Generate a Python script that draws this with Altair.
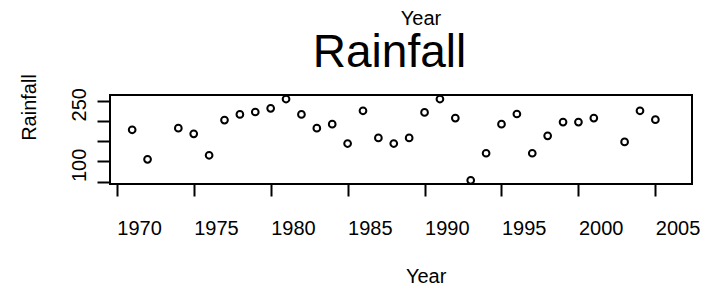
import altair as alt
import pandas as pd

years = [1971, 1972, 1974, 1975, 1976, 1977, 1978, 1979, 1980, 1981, 1982,
         1983, 1984, 1985, 1986, 1987, 1988, 1989, 1990, 1991, 1992, 1993,
         1994, 1995, 1996, 1997, 1998, 1999, 2000, 2001, 2003, 2004, 2005]
rainfall = [228, 155, 232, 218, 165, 252, 266, 272, 281, 304, 266,
            232, 242, 194, 275, 208, 194, 208, 271, 304, 257, 103,
            170, 242, 267, 170, 213, 247, 247, 257, 198, 275, 253]
x_ticks = [1970, 1975, 1980, 1985, 1990, 1995, 2000, 2005]
y_ticks = [100, 150, 200, 250, 300]
y_labels = [100, 250]

df = pd.DataFrame({"Year": years, "Rainfall": rainfall})
FONT = "Liberation Sans"

xscale = alt.Scale(domain=[1969.56, 2007.38], nice=False, zero=False)
yscale = alt.Scale(domain=[94, 314], nice=False, zero=False)

label_test = " || ".join(f"datum.value == {v}" for v in y_labels)

points = alt.Chart(df).mark_point(
    shape="circle", filled=False, color="black", size=45, strokeWidth=2, opacity=1
).encode(
    x=alt.X("Year:Q", scale=xscale, axis=alt.Axis(
        orient="bottom", values=x_ticks, grid=False, domain=False,
        tickSize=12, tickWidth=2, tickColor="black",
        labelAlign="left", labelBaseline="alphabetic", labelPadding=38,
        labelFontSize=20, labelFont=FONT, labelColor="black",
        labelOverlap=False, labelFlush=False, format="d",
        title="Year", titleFont=FONT, titleFontSize=20, titleFontWeight="normal",
        titleColor="black", titleX=315.6, titleY=98, titleAlign="center",
        titleBaseline="alphabetic", titleAnchor="start")),
    y=alt.Y("Rainfall:Q", scale=yscale, axis=alt.Axis(
        orient="left", values=y_ticks, grid=False, domain=False,
        tickSize=13, tickWidth=2, tickColor="black",
        labelExpr=f"({label_test}) ? datum.label : ''",
        labelAngle=270, labelAlign="left", labelBaseline="alphabetic",
        labelPadding=12, labelFontSize=20, labelFont=FONT, labelColor="black",
        labelOverlap=False, labelFlush=False,
        title="Rainfall", titleFont=FONT, titleFontSize=20, titleFontWeight="normal",
        titleColor="black", titleAngle=270, titleX=-75, titleY=12,
        titleAlign="center", titleBaseline="alphabetic", titleAnchor="start")),
)

top = alt.Chart(df).mark_point(opacity=0).encode(
    x=alt.X("Year:Q", scale=xscale, axis=alt.Axis(
        orient="top", grid=False, domain=False, ticks=False, labels=False,
        title="Rainfall", titleFont=FONT, titleFontSize=46, titleFontWeight="normal",
        titleColor="black", titleX=279, titleY=-29, titleAlign="center",
        titleBaseline="alphabetic", titleAngle=0, titleAnchor="start")),
    y=alt.Y("Rainfall:Q", scale=yscale, axis=None),
)

chart = alt.layer(points, top).resolve_axis(x="independent", y="independent").properties(
    width=582, height=89,
    background="white",
    title=alt.TitleParams("Year", font=FONT, fontSize=20, fontWeight="normal",
                          color="black", anchor="middle", dx=20, offset=0),
    autosize=alt.AutoSizeParams(type="none"),
    padding={"left": 102, "top": 87, "right": 15, "bottom": 102},
).configure_view(stroke="black", strokeWidth=2)

chart.save("out.html", embed_options={"renderer": "svg", "actions": False})
